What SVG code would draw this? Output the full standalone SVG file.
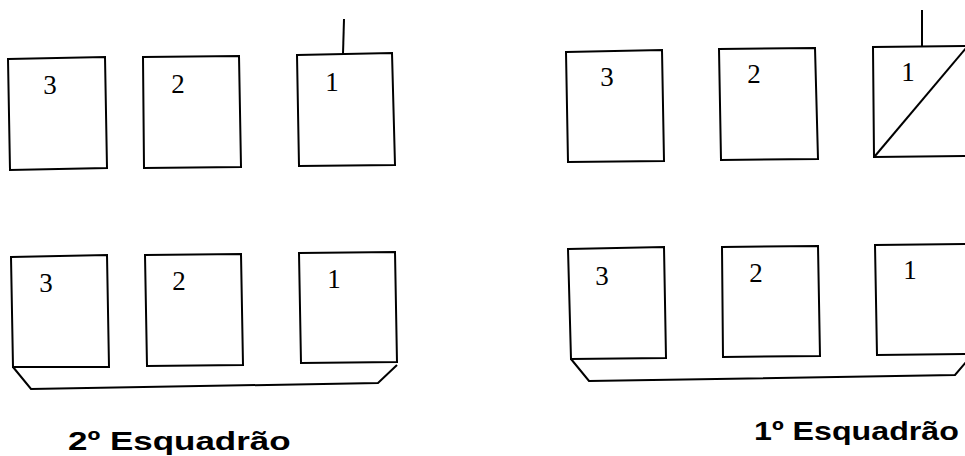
<svg xmlns="http://www.w3.org/2000/svg" width="965" height="456" viewBox="0 0 965 456">
<style>
.box{fill:#fff;stroke:#000;stroke-width:2;stroke-linejoin:miter}
.ln{fill:none;stroke:#000;stroke-width:2}
.num{font-family:"Liberation Serif","Times New Roman",serif;font-size:27px;fill:#000;text-anchor:middle}
.title{font-family:"Liberation Sans",Arial,sans-serif;font-size:26.5px;font-weight:bold;fill:#000}
</style>
<rect width="965" height="456" fill="#fff"/>
<!-- 2º Esquadrão, top row -->
<g id="e2-top-3"><polygon class="box" points="8,59 105,57 107,168 10,170"/><text class="num" x="50" y="94">3</text></g>
<g id="e2-top-2"><polygon class="box" points="143,57 239,56 241,167 144,168"/><text class="num" x="178" y="93">2</text></g>
<g id="e2-top-1"><polygon class="box" points="297,55 392,53 395,165 299,166"/><text class="num" x="332" y="91">1</text></g>
<!-- 2º Esquadrão, bottom row -->
<g id="e2-bot-3"><polygon class="box" points="11,257 107,255 109,367 13,367"/><text class="num" x="46" y="292">3</text></g>
<g id="e2-bot-2"><polygon class="box" points="145,255 241,254 243,365 147,366"/><text class="num" x="179" y="290">2</text></g>
<g id="e2-bot-1"><polygon class="box" points="299,253 395,252 397,362 301,363"/><text class="num" x="334" y="288">1</text></g>
<!-- 1º Esquadrão, top row -->
<g id="e1-top-3"><polygon class="box" points="566,52 662,50 664,161 568,162"/><text class="num" x="607" y="86">3</text></g>
<g id="e1-top-2"><polygon class="box" points="719,49 815,48 818,159 721,160"/><text class="num" x="754" y="83">2</text></g>
<g id="e1-top-1"><polyline class="ln" points="966,46 873,47 874,157 966,156"/><line class="ln" x1="875" y1="156" x2="966" y2="48"/><text class="num" x="908" y="81">1</text></g>
<!-- 1º Esquadrão, bottom row -->
<g id="e1-bot-3"><polygon class="box" points="568,249 664,247 666,358 571,359"/><text class="num" x="602" y="285">3</text></g>
<g id="e1-bot-2"><polygon class="box" points="722,247 818,246 820,356 723,357"/><text class="num" x="756" y="282">2</text></g>
<g id="e1-bot-1"><polyline class="ln" points="966,244 875,245 877,355 966,354"/><text class="num" x="910" y="279">1</text></g>
<!-- stems and trays -->
<g id="connectors">
<line class="ln" x1="344" y1="19" x2="343" y2="54"/>
<line class="ln" x1="922" y1="10" x2="922" y2="47"/>
<polyline class="ln" points="13,367 31,389 378,383 397,365"/>
<polyline class="ln" points="571,359 589,381 955,375 966,362"/>
</g>
<g id="labels">
<text class="title" transform="translate(68,450) scale(1.32,1)">2º Esquadrão</text>
<text class="title" transform="translate(754,440) scale(1.215,1)">1º Esquadrão</text>
</g>
</svg>
